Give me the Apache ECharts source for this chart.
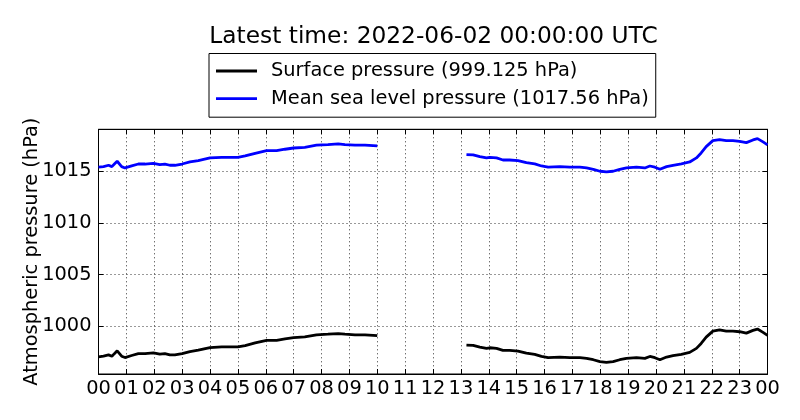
<!DOCTYPE html>
<html>
<head>
<meta charset="utf-8">
<script src="https://cdn.jsdelivr.net/npm/echarts@6/dist/echarts.min.js"></script>
<style>
html,body{margin:0;padding:0;background:#fff;}
#chart{width:800px;height:420px;}
</style>
</head>
<body>
<div id="chart"></div>
<script>
// ---- data (hours since 00 UTC, hPa) ----
var hoursA = [0, 0.18, 0.36, 0.48, 0.57, 0.67, 0.74, 0.83, 0.95, 1.19, 1.43, 1.67, 1.97, 2.2, 2.38, 2.56, 2.74, 3.0, 3.28, 3.58, 4.0, 4.42, 5.0, 5.26, 5.62, 6.03, 6.39, 6.69, 7.0, 7.4, 7.82, 8.23, 8.6, 8.84, 9.2, 9.56, 10.0];
var mslA = [1015.39, 1015.45, 1015.58, 1015.45, 1015.70, 1015.97, 1015.84, 1015.45, 1015.32, 1015.52, 1015.70, 1015.70, 1015.77, 1015.65, 1015.70, 1015.58, 1015.58, 1015.70, 1015.90, 1016.03, 1016.29, 1016.35, 1016.35, 1016.48, 1016.74, 1016.99, 1016.99, 1017.13, 1017.25, 1017.32, 1017.52, 1017.58, 1017.64, 1017.58, 1017.52, 1017.52, 1017.45];
var surfaceA = [997.04, 997.10, 997.23, 997.10, 997.35, 997.62, 997.49, 997.10, 996.97, 997.17, 997.35, 997.35, 997.42, 997.30, 997.35, 997.23, 997.23, 997.35, 997.55, 997.68, 997.94, 998.00, 998.00, 998.13, 998.39, 998.64, 998.64, 998.78, 998.90, 998.97, 999.17, 999.23, 999.29, 999.23, 999.17, 999.17, 999.10];
var hoursB = [13.2, 13.44, 13.68, 13.92, 14.04, 14.28, 14.51, 14.75, 15.05, 15.35, 15.65, 15.89, 16.13, 16.55, 16.91, 17.27, 17.51, 17.75, 17.99, 18.22, 18.46, 18.7, 18.94, 19.3, 19.6, 19.78, 19.96, 20.14, 20.38, 20.61, 20.91, 21.21, 21.45, 21.62, 21.8, 22.04, 22.28, 22.52, 22.76, 23.0, 23.24, 23.48, 23.64, 23.84, 24.0];
var mslB = [1016.61, 1016.58, 1016.41, 1016.29, 1016.35, 1016.29, 1016.09, 1016.09, 1016.03, 1015.83, 1015.71, 1015.51, 1015.39, 1015.45, 1015.39, 1015.39, 1015.32, 1015.19, 1015.00, 1014.93, 1015.00, 1015.19, 1015.32, 1015.39, 1015.32, 1015.51, 1015.39, 1015.19, 1015.45, 1015.58, 1015.71, 1015.90, 1016.29, 1016.77, 1017.38, 1017.96, 1018.07, 1017.96, 1017.96, 1017.90, 1017.77, 1018.03, 1018.16, 1017.84, 1017.56];
var surfaceB = [998.18, 998.15, 997.98, 997.86, 997.92, 997.86, 997.66, 997.66, 997.60, 997.40, 997.28, 997.08, 996.96, 997.02, 996.96, 996.96, 996.89, 996.76, 996.57, 996.50, 996.57, 996.76, 996.89, 996.96, 996.89, 997.08, 996.96, 996.76, 997.02, 997.15, 997.28, 997.47, 997.86, 998.34, 998.95, 999.53, 999.64, 999.53, 999.53, 999.47, 999.34, 999.60, 999.73, 999.41, 999.125];
var yTicks = [1000, 1005, 1010, 1015];
var titleText = 'Latest time: 2022-06-02 00:00:00 UTC';
var surfaceName = 'Surface pressure (999.125 hPa)';
var mslName = 'Mean sea level pressure (1017.56 hPa)';
var yName = 'Atmospheric pressure (hPa)';

function pair(hs, vs) {
  return hs.map(function (h, i) { return [h, vs[i]]; });
}
function joined(hA, vA, hB, vB) {
  return pair(hA, vA).concat([[(hA[hA.length - 1] + hB[0]) / 2, '-']]).concat(pair(hB, vB));
}
function pad(v) { var n = Math.round(v) % 24; return (n < 10 ? '0' : '') + n; }

var FONT = 'DejaVu Sans';
var FS = 19.4;
var gridStyle = { show: true, lineStyle: { color: '#000', width: 1, type: [1, 3], opacity: 0.8 } };

var chart = echarts.init(document.getElementById('chart'), null, { renderer: 'canvas' });
chart.setOption({
  animation: false,
  backgroundColor: '#fff',
  textStyle: { fontFamily: FONT },
  title: {
    text: titleText,
    left: 428.5, top: 20, textAlign: 'center',
    textStyle: { fontFamily: FONT, fontSize: 23.3, fontWeight: 'normal', color: '#000' }
  },
  legend: {
    orient: 'vertical',
    left: 209, top: 53.5,
    padding: [7.5, 7, 8.5, 7],
    itemGap: 7.7,
    itemWidth: 41, itemHeight: 2.8,
    icon: 'rect',
    borderColor: '#000', borderWidth: 1, borderRadius: 0,
    backgroundColor: '#fff',
    textStyle: { fontFamily: FONT, fontSize: FS, color: '#000', lineHeight: 20, padding: [0, 0, 0, 9] },
    data: [surfaceName, mslName]
  },
  grid: {
    left: 98.5, right: 32.5, top: 129.3, bottom: 46,
    show: true, borderColor: '#000', borderWidth: 1, backgroundColor: 'transparent'
  },
  xAxis: [{
    type: 'value', min: 0, max: 24, interval: 1,
    axisLine: { show: true, onZero: false, lineStyle: { color: '#000', width: 1 } },
    axisTick: { show: true, inside: true, length: 5, lineStyle: { color: '#000' } },
    axisLabel: { formatter: pad, fontFamily: FONT, fontSize: FS, color: '#000', margin: 5 },
    splitLine: gridStyle
  }, {
    type: 'value', min: 0, max: 24, interval: 1, position: 'top',
    axisLine: { show: true, onZero: false, lineStyle: { color: '#000', width: 1 } },
    axisTick: { show: true, inside: true, length: 5, lineStyle: { color: '#000' } },
    axisLabel: { show: false }, splitLine: { show: false }
  }],
  yAxis: [{
    type: 'value', min: 995.38, max: 1019.06,
    name: yName, nameLocation: 'middle', nameGap: 57, nameRotate: 90, nameMoveOverlap: false,
    nameTextStyle: { fontFamily: FONT, fontSize: FS, color: '#000' },
    axisLine: { show: true, onZero: false, lineStyle: { color: '#000', width: 1 } },
    axisTick: { show: true, inside: true, length: 5, customValues: yTicks, lineStyle: { color: '#000' } },
    axisLabel: { customValues: yTicks, formatter: function (v) { return String(Math.round(v)); }, fontFamily: FONT, fontSize: FS, color: '#000', margin: 7 },
    splitLine: gridStyle
  }, {
    type: 'value', min: 995.38, max: 1019.06, position: 'right',
    axisLine: { show: true, onZero: false, lineStyle: { color: '#000', width: 1 } },
    axisTick: { show: true, inside: true, length: 5, customValues: yTicks, lineStyle: { color: '#000' } },
    axisLabel: { show: false }, splitLine: { show: false }
  }],
  series: [{
    name: surfaceName, type: 'line', xAxisIndex: 0, yAxisIndex: 0,
    showSymbol: false, symbol: 'none', connectNulls: false,
    lineStyle: { color: '#000', width: 2.8 }, itemStyle: { color: '#000' },
    data: joined(hoursA, surfaceA, hoursB, surfaceB)
  }, {
    name: mslName, type: 'line', xAxisIndex: 0, yAxisIndex: 0,
    showSymbol: false, symbol: 'none', connectNulls: false,
    lineStyle: { color: '#0000ff', width: 2.8 }, itemStyle: { color: '#0000ff' },
    data: joined(hoursA, mslA, hoursB, mslB)
  }]
});
</script>
</body>
</html>
